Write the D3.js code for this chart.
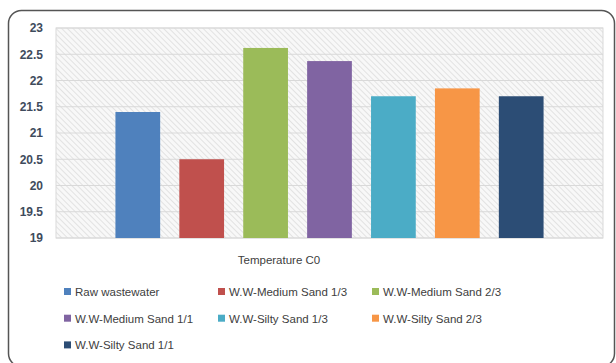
<!DOCTYPE html>
<html>
<head>
<meta charset="utf-8">
<script src="https://cdn.jsdelivr.net/npm/d3@7"></script>
<style>
  body { margin: 0; background: #fff; }
  svg { display: block; font-family: "Liberation Sans", Arial, sans-serif; }
</style>
</head>
<body>
<script>
// chart size, plot area
const width = 616;
const height = 363;
const margin = {top: 28, right: 13, bottom: 125, left: 56};

// data
const series = ["Raw wastewater", "W.W-Medium Sand 1/3", "W.W-Medium Sand 2/3",
  "W.W-Medium Sand 1/1", "W.W-Silty Sand 1/3", "W.W-Silty Sand 2/3", "W.W-Silty Sand 1/1"];
const values = [21.4, 20.5, 22.62, 22.37, 21.7, 21.85, 21.7];
const colors = ["#4F81BD", "#C0504D", "#9BBB59", "#8064A2", "#4BACC6", "#F79646", "#2C4D75"];
const yTicks = [19, 19.5, 20, 20.5, 21, 21.5, 22, 22.5, 23];
const axisTitle = "Temperature C0";

const x = d3.scaleBand()
  .domain(series)
  .range([margin.left, width - margin.right])
  .paddingInner(0.3)
  .paddingOuter(0.93);

const y = d3.scaleLinear()
  .domain([19, 23])
  .range([height - margin.bottom, margin.top]);

const svg = d3.select("body").append("svg")
  .attr("width", width)
  .attr("height", height);

// hatch pattern for the plot area (lines going down to the right)
const pat = svg.append("defs").append("pattern")
  .attr("id", "hatch")
  .attr("patternUnits", "userSpaceOnUse")
  .attr("width", 4).attr("height", 4)
  .attr("patternTransform", "rotate(45)");
pat.append("rect").attr("width", 4).attr("height", 4).attr("fill", "#f8f8f8");
pat.append("line").attr("x1", 0).attr("y1", 0).attr("x2", 4).attr("y2", 0)
  .attr("stroke", "#e2e2e2").attr("stroke-width", 2);

// outer frame
svg.append("rect")
  .attr("x", 8.5).attr("y", 10.5)
  .attr("width", 606).attr("height", 356)
  .attr("rx", 13)
  .attr("fill", "#fff")
  .attr("stroke", "#555")
  .attr("stroke-width", 1.5);

// plot area
svg.append("rect")
  .attr("x", margin.left).attr("y", margin.top)
  .attr("width", width - margin.right - margin.left)
  .attr("height", height - margin.bottom - margin.top)
  .attr("fill", "url(#hatch)")
  .attr("stroke", "#d9d9d9");

// gridlines
svg.append("g")
  .selectAll("line")
  .data(yTicks)
  .join("line")
  .attr("x1", margin.left).attr("x2", width - margin.right)
  .attr("y1", d => y(d)).attr("y2", d => y(d))
  .attr("stroke", "#d9d9d9")
  .attr("stroke-width", 1.2);

// y axis
svg.append("g")
  .attr("transform", `translate(${margin.left - 10},0)`)
  .call(d3.axisLeft(y).tickValues(yTicks).tickSize(0).tickFormat(d => d))
  .call(g => g.select(".domain").remove())
  .call(g => g.selectAll("text")
    .attr("font-family", "'Liberation Sans', Arial, sans-serif")
    .attr("font-size", 12)
    .attr("font-weight", "bold")
    .attr("fill", "#3f4b5c"));

// bars
svg.append("g")
  .selectAll("rect")
  .data(series)
  .join("rect")
  .attr("x", d => x(d))
  .attr("width", x.bandwidth())
  .attr("y", (d, i) => y(values[i]))
  .attr("height", (d, i) => y(19) - y(values[i]))
  .attr("fill", (d, i) => colors[i]);

// axis title
svg.append("text")
  .attr("x", 279).attr("y", 264)
  .attr("text-anchor", "middle")
  .attr("font-size", 11.5)
  .attr("fill", "#404040")
  .text(axisTitle);

// legend
const legend = svg.append("g")
  .selectAll("g")
  .data(series)
  .join("g")
  .attr("transform", (d, i) => `translate(${64 + (i % 3) * 154},${292 + Math.floor(i / 3) * 26.7})`);
legend.append("rect")
  .attr("x", 0).attr("y", -4)
  .attr("width", 7).attr("height", 7)
  .attr("fill", (d, i) => colors[i]);
legend.append("text")
  .attr("x", 11).attr("y", 4)
  .attr("font-size", 11.5)
  .attr("fill", "#404040")
  .text(d => d);
</script>
</body>
</html>
